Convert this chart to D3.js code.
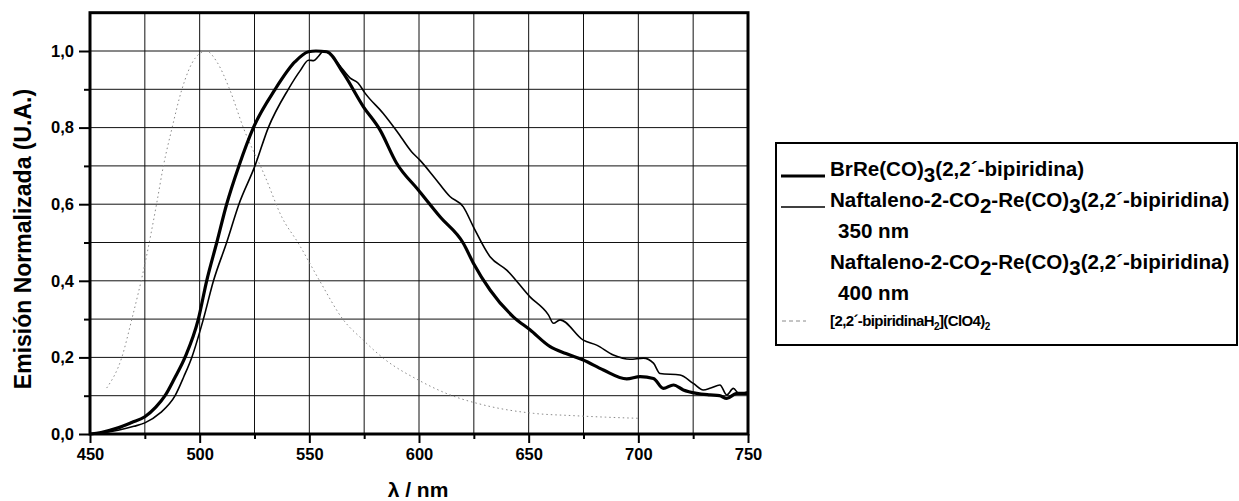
<!DOCTYPE html>
<html><head><meta charset="utf-8">
<script src="https://cdn.jsdelivr.net/npm/d3@7/dist/d3.min.js"></script>
<style>body{margin:0;background:#fff}svg{display:block}text{font-family:"Liberation Sans",Arial,sans-serif;font-weight:bold;fill:#000}</style>
</head><body><svg id="c" width="1239" height="501"></svg>
<script>
// ---- data ----
const brReX = [450,455,462.8,469,475,480,484.2,488.5,493.3,499.4,503.2,507.8,512.3,517.9,524.5,534.4,543.5,549.6,553,557.9,565.5,574.6,582.2,589.8,599.7,609.6,620.2,624.8,632.4,643,650.6,659.8,667,674.9,684.1,694.7,700.8,706.9,711.4,716,720.5,726.6,732.7,737,740.3,744.9,750];
const brReY = [0,0.004,0.016,0.03,0.045,0.07,0.1,0.145,0.2,0.3,0.4,0.5,0.6,0.7,0.8,0.9,0.972,0.998,1.0,0.998,0.942,0.855,0.794,0.707,0.637,0.567,0.498,0.446,0.376,0.306,0.272,0.228,0.21,0.193,0.167,0.144,0.15,0.145,0.119,0.128,0.115,0.106,0.102,0.1,0.093,0.106,0.106];
const naf350X = [450,457,462.8,470,475,482,488.8,492.8,496.4,501.7,506.3,512.3,517.9,525.2,531.3,540.4,546,549.6,552,554,556.5,557.9,565.5,568.5,572.3,575.4,583.7,590,596.6,600.4,607,614.1,620.2,624.8,632.4,640,650.6,659,661.3,664.3,674.9,681,688.6,696.2,702.3,706.9,709.9,719,725.1,729.6,733,737.2,740.3,743.3,746,750];
const naf350Y = [0,0.004,0.01,0.02,0.029,0.055,0.1,0.15,0.2,0.3,0.4,0.5,0.6,0.7,0.8,0.9,0.95,0.976,0.975,0.985,1.0,0.998,0.95,0.93,0.916,0.89,0.837,0.79,0.737,0.715,0.67,0.62,0.593,0.541,0.463,0.428,0.358,0.311,0.289,0.298,0.245,0.232,0.206,0.195,0.198,0.185,0.158,0.154,0.132,0.115,0.12,0.128,0.102,0.119,0.105,0.11];
const bipyX = [457.6,464.5,469,475.1,480.4,483.4,487.2,491.8,497.9,503,507.8,513.8,519.9,530,537.4,545,554.9,565.5,574.6,583.7,600,614.2,629.3,652.1,670,685,700];
const bipyY = [0.12,0.2,0.298,0.446,0.602,0.698,0.794,0.898,0.981,1.0,0.972,0.898,0.8,0.67,0.567,0.498,0.398,0.298,0.245,0.198,0.14,0.102,0.076,0.054,0.048,0.044,0.041];
const xMajorTicks = [450,500,550,600,650,700,750];
const xMinorTicks = [475,525,575,625,675,725];
const yMajorTicks = [0,0.2,0.4,0.6,0.8,1.0];
const yMinorTicks = [0.1,0.3,0.5,0.7,0.9];
const xTitle = "λ / nm";
const yTitle = "Emisión Normalizada (U.A.)";

// ---- chart ----
const svg = d3.select("#c");
svg.append("rect").attr("width",1239).attr("height",501).attr("fill","#fff");
const x = d3.scaleLinear().domain([450,750]).range([90,748]);
const y = d3.scaleLinear().domain([0,1.1]).range([434,12.7]);

const grid = svg.append("g").attr("stroke","#111").attr("stroke-width",1);
grid.selectAll("line.v").data(xMinorTicks.concat(xMajorTicks.slice(1,-1))).join("line")
  .attr("x1",d=>x(d)).attr("x2",d=>x(d)).attr("y1",y(0)).attr("y2",y(1.1));
grid.selectAll("line.h").data(yMinorTicks.concat(yMajorTicks.slice(1))).join("line")
  .attr("y1",d=>y(d)).attr("y2",d=>y(d)).attr("x1",x(450)).attr("x2",x(750));

// axes
const fmt = d => d.toFixed(1).replace(".",",");
svg.append("g").attr("transform",`translate(0,${y(0)})`)
  .call(d3.axisBottom(x).tickValues(xMajorTicks).tickSize(9).tickPadding(5).tickFormat(d3.format("d")))
  .selectAll("text").attr("font-size",16.5);
svg.append("g").attr("transform",`translate(0,${y(0)})`)
  .call(d3.axisBottom(x).tickValues(xMinorTicks).tickSize(5).tickFormat(""));
svg.append("g").attr("transform",`translate(${x(450)},0)`)
  .call(d3.axisLeft(y).tickValues(yMajorTicks).tickSize(11).tickPadding(5).tickFormat(fmt))
  .selectAll("text").attr("font-size",16.5);
svg.append("g").attr("transform",`translate(${x(450)},0)`)
  .call(d3.axisLeft(y).tickValues(yMinorTicks).tickSize(6).tickFormat(""));
svg.selectAll(".domain").remove();
svg.selectAll(".tick line").attr("stroke","#000").attr("stroke-width",2);
svg.selectAll(".tick text").attr("font-family","Liberation Sans, Arial").attr("font-weight","bold").attr("fill","#000");

// frame
svg.append("rect").attr("x",x(450)).attr("y",y(1.1)).attr("width",x(750)-x(450)).attr("height",y(0)-y(1.1))
  .attr("fill","none").attr("stroke","#000").attr("stroke-width",3);

// curves
const line = d3.line().x(d=>x(d[0])).y(d=>y(d[1])).curve(d3.curveMonotoneX);
const zip = (a,b)=>a.map((v,i)=>[v,b[i]]);
svg.append("path").datum(zip(bipyX,bipyY)).attr("d",line).attr("fill","none")
  .attr("stroke","#8a8a8a").attr("stroke-width",1).attr("stroke-dasharray","1.5,3");
svg.append("path").datum(zip(naf350X,naf350Y)).attr("d",line).attr("fill","none")
  .attr("stroke","#000").attr("stroke-width",1.6);
svg.append("path").datum(zip(brReX,brReY)).attr("d",line).attr("fill","none")
  .attr("stroke","#000").attr("stroke-width",3.2);

// titles
svg.append("text").attr("x",418).attr("y",497).attr("text-anchor","middle").attr("font-size",21).text(xTitle);
svg.append("text").attr("transform","translate(31,239) rotate(-90)").attr("text-anchor","middle").attr("font-size",23).text(yTitle);

// legend
const lg = svg.append("g");
lg.append("rect").attr("x",776).attr("y",143).attr("width",461).attr("height",202)
  .attr("fill","#fff").attr("stroke","#000").attr("stroke-width",2);
// parts: [text, isSub]
function rich(t, parts, sub, subSize){
  let shift = 0;
  parts.forEach(([s,isSub])=>{
    const ts = t.append("tspan").text(s);
    const target = isSub ? sub : 0;
    if (target !== shift) { ts.attr("dy", target - shift); shift = target; }
    if (isSub && subSize) ts.attr("font-size", subSize);
  });
}
const rows = [
  {y:176, w:3.2, parts:[["BrRe(CO)",0],["3",1],["(2,2´-bipiridina)",0]]},
  {y:207, w:1.6, parts:[["Naftaleno-2-CO",0],["2",1],["-Re(CO)",0],["3",1],["(2,2´-bipiridina)",0]]},
  {y:238, x:838, parts:[["350 nm",0]]},
  {y:269, parts:[["Naftaleno-2-CO",0],["2",1],["-Re(CO)",0],["3",1],["(2,2´-bipiridina)",0]]},
  {y:300, x:838, parts:[["400 nm",0]]}
];
rows.forEach(r=>{
  if(r.w) lg.append("line").attr("x1",781).attr("x2",825).attr("y1",r.y).attr("y2",r.y).attr("stroke","#000").attr("stroke-width",r.w);
  const t = lg.append("text").attr("x",r.x||830).attr("y",r.y).attr("font-size",20.6);
  rich(t,r.parts,6,null);
});
lg.append("line").attr("x1",782).attr("x2",806).attr("y1",321).attr("y2",321).attr("stroke","#8a8a8a").attr("stroke-width",1).attr("stroke-dasharray","4,3");
const t4 = lg.append("text").attr("x",830).attr("y",326).attr("font-size",15).attr("letter-spacing",-0.6);
rich(t4,[["[2,2´-bipiridinaH",0],["2",1],["](ClO4)",0],["2",1]],4,10);
</script></body></html>
